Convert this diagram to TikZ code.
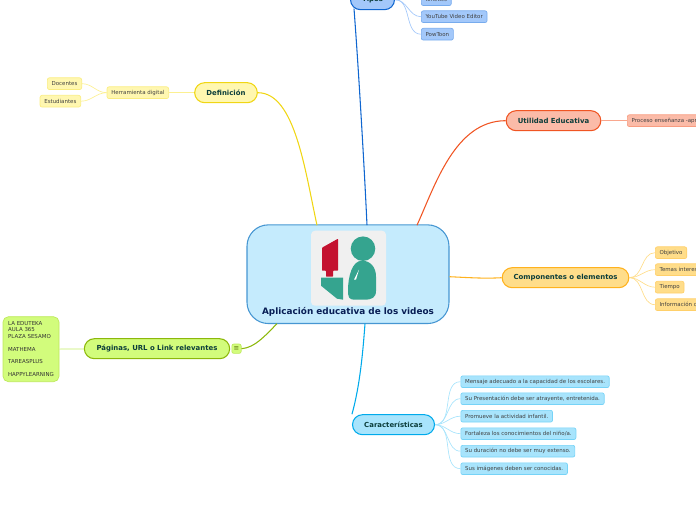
\documentclass[tikz,border=0pt]{standalone}
\usepackage{fontspec}
\setmainfont{DejaVu Sans}
\usepackage{tikz}
\usetikzlibrary{arrows.meta, positioning, calc}
\definecolor{inkdark}{HTML}{0B3D3A}
\definecolor{inkhub}{HTML}{081E55}
\definecolor{tealfig}{HTML}{35A48F}
\definecolor{redfig}{HTML}{C41230}
\definecolor{hubfill}{HTML}{C5EBFD}
\definecolor{hubline}{HTML}{4696D2}
\definecolor{tipline}{HTML}{0F66D0}
\definecolor{tipfill}{HTML}{A3C8FA}
\definecolor{defline}{HTML}{F0D614}
\definecolor{deffill}{HTML}{FFF7B0}
\definecolor{utiline}{HTML}{F05523}
\definecolor{utifill}{HTML}{FBBBA8}
\definecolor{comline}{HTML}{FFB21E}
\definecolor{comfill}{HTML}{FFDD8A}
\definecolor{carline}{HTML}{00AAEB}
\definecolor{carfill}{HTML}{A8E4FC}
\definecolor{pagline}{HTML}{8CB80A}
\definecolor{pagfill}{HTML}{D2FC7C}
\tikzset{
  topic/.style n args={2}{draw=#1, fill=#2, line width=0.8pt, rounded corners=7.5pt, minimum height=15pt, inner sep=0pt, font=\fontsize{5.2}{6}\selectfont\bfseries, text=inkdark},
  leaf/.style n args={2}{draw=#1!30!#2, fill=#2, line width=0.5pt, rounded corners=1.5pt, inner xsep=3.2pt, inner ysep=0pt, minimum height=8.8pt, font=\fontsize{4.1}{4.8}\selectfont, text=black!75},
  branch/.style={line width=0.8pt},
  twig/.style={line width=0.5pt}
}
\begin{document}
\begin{tikzpicture}[x=0.75pt, y=-0.75pt]
  \useasboundingbox (0,-0.7) rectangle (696,519.3);
  \clip (0,-0.7) rectangle (696,519.3);
  % --- central topic ------------------------------------------------
  \node[draw=hubline, fill=hubfill, line width=0.8pt, rounded corners=16pt, minimum width=151.5pt, minimum height=74pt] (hub) at (348,273.5) {};
  \fill[black!6, rounded corners=3pt] (311,230) rectangle (386,305);
  \fill[redfig, rounded corners=0.5pt] (322,247) -- (338,238) -- (338,270) -- (333,270) -- (333,276) -- (326,276) -- (326,270) -- (322,270) -- cycle;
  \fill[tealfig] (321,277) -- (343,277) -- (343,299) -- (337,298) -- (321,285) -- cycle;
  \fill[tealfig] (363,248) circle (9.2pt);
  \fill[tealfig] (362,260) .. controls (370,260) and (376,266) .. (376,276) -- (376,290) .. controls (376,297) and (372,299) .. (364,299) -- (354,299) .. controls (349,299) and (348,296) .. (348,290) .. controls (348,276) and (352,260) .. (362,260) -- cycle;
  \fill[white] (359,269) -- (354,279) -- (356,279) -- cycle;
  \node[font=\fontsize{6.65}{8}\selectfont\bfseries, text=inkhub] (hubtext) at (348,311.5) {Aplicación educativa de los videos};
  % --- Tipos ---------------------------------------------------------
  \node[topic={tipline}{tipfill}, minimum width=33pt] (tipos) at (372.5,-1) {Tipos};
  \node[leaf={tipline}{tipfill}, anchor=west] (kin) at (421,-1) {Kinetics};
  \node[leaf={tipline}{tipfill}, anchor=west] (yt) at (421,16) {YouTube Video Editor};
  \node[leaf={tipline}{tipfill}, anchor=west] (pow) at (421,33.5) {PowToon};
  \foreach \t in {kin,yt,pow}
    \draw[twig, tipfill] (tipos.east) to[out=0, in=180] (\t.west);
  % --- Definicion -----------------------------------------------------
  \node[topic={defline}{deffill}, minimum width=47pt] (defi) at (226,92) {Definición};
  \node[leaf={defline}{deffill}, anchor=east] (herr) at (169,92) {Herramienta digital};
  \node[leaf={defline}{deffill}, anchor=east] (doc) at (82,83) {Docentes};
  \node[leaf={defline}{deffill}, anchor=east] (est) at (81,100.5) {Estudiantes};
  \draw[twig, deffill!80!defline] (herr) -- (defi);
  \draw[twig, deffill!80!defline] (herr.west) to[out=180, in=0] (doc.east);
  \draw[twig, deffill!80!defline] (herr.west) to[out=180, in=0] (est.east);
  % --- Utilidad --------------------------------------------------------
  \node[topic={utiline}{utifill}, minimum width=71pt] (util) at (553.5,120) {Utilidad Educativa};
  \node[leaf={utiline}{utifill}, anchor=west] (proc) at (627,120) {Proceso enseñanza -aprendizaje};
  \draw[twig, utifill!80!utiline] (util) -- (proc);
  % --- Componentes -----------------------------------------------------
  \node[topic={comline}{comfill}, minimum width=95pt] (comp) at (565.5,277) {Componentes o elementos};
  \foreach \n/\y/\txt in {obj/252/Objetivo, tem/269/Temas interesantes, tie/286.5/Tiempo, inf/304/Información clara}
  {
    \node[leaf={comline}{comfill}, anchor=west] (\n) at (655,\y) {\txt};
    \draw[twig, comfill] (comp.east) to[out=0, in=180] (\n.west);
  }
  % --- Caracteristicas --------------------------------------------------
  \node[topic={carline}{carfill}, minimum width=61.5pt] (car) at (393.5,424) {Características};
  \foreach \n/\y/\txt in {c1/381/{Mensaje adecuado a la capacidad de los escolares.}, c2/398/{Su Presentación debe ser atrayente, entretenida.}, c3/415.5/{Promueve la actividad infantil.}, c4/433/{Fortaleza los conocimientos del niño/a.}, c5/450.5/{Su duración no debe ser muy extenso.}, c6/468/{Sus imágenes deben ser conocidas.}}
  {
    \node[leaf={carline}{carfill}, anchor=west] (\n) at (460.5,\y) {\txt};
    \draw[twig, carfill] (car.east) to[out=0, in=180] (\n.west);
  }
  % --- Paginas ----------------------------------------------------------
  \node[topic={pagline}{pagfill}, minimum width=109pt] (pag) at (157,348) {Páginas, URL o Link relevantes};
  \node[draw=pagfill!70!pagline, fill=pagfill, line width=0.5pt, rounded corners=1.5pt, minimum size=7pt, inner sep=0pt, font=\fontsize{5}{5}\selectfont, text=pagline!60!black] (note) at (236.5,348) {≡};
  \node[draw=pagfill!70!pagline, fill=pagfill, line width=0.5pt, rounded corners=4pt, minimum width=42pt, minimum height=48.7pt, inner sep=0pt, align=left, font=\fontsize{4.1}{4.8}\selectfont, text=black!80] (url) at (31,348.5) {LA EDUTEKA\\AULA 365\\PLAZA SESAMO\\[4.8pt]MATHEMA\\[4.8pt]TAREASPLUS\\[4.8pt]HAPPYLEARNING};
  \draw[twig, pagfill!80!pagline] (url) -- (pag);
  % --- main branches -------------------------------------------------
  \coordinate (hubdef) at (317,224.5);
  \coordinate (hubtip) at (367,224.5);
  \coordinate (hubuti) at (417,224.5);
  \coordinate (hubcom) at (449.5,276);
  \coordinate (hubcar) at (365,323);
  \coordinate (hubpag) at (277,323);
  \coordinate (tipend) at (354,8);
  \draw[branch, defline] (hubdef) .. controls (305,170) and (295,92) .. (defi.east);
  \draw[branch, tipline] (hubtip) .. controls (364,160) and (358,60) .. (tipend);
  \draw[branch, utiline] (hubuti) .. controls (435,185) and (455,120) .. (util.west);
  \draw[branch, comline] (hubcom) .. controls (470,277) and (485,278) .. (comp.west);
  \draw[branch, carline] (hubcar) .. controls (363,350) and (360,385) .. (car.north west);
  \draw[branch, pagline] (hubpag) .. controls (265,335) and (255,347) .. (note.east);
\end{tikzpicture}
\end{document}
